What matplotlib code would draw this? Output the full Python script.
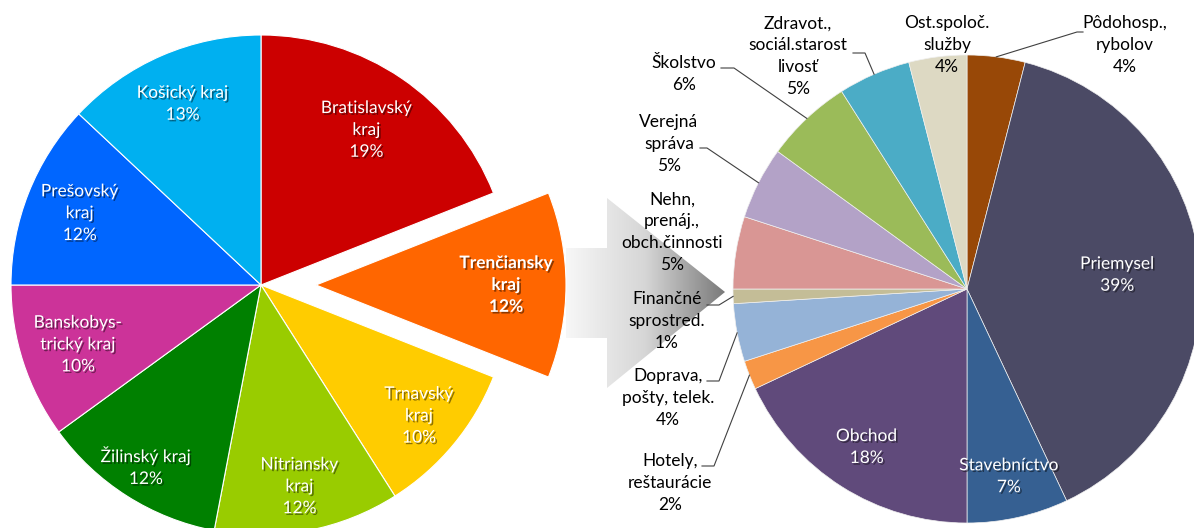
import numpy as np
import matplotlib
matplotlib.use('Agg')
import matplotlib.pyplot as plt
import matplotlib.patheffects as pe
from matplotlib.patches import Polygon

plt.rcParams['font.family'] = ['Lato', 'DejaVu Sans']

# left pie - kraje
kraje = ['Bratislavský\nkraj', 'Trenčiansky\nkraj', 'Trnavský\nkraj', 'Nitriansky\nkraj',
         'Žilinský kraj', 'Banskobys-\ntrický kraj', 'Prešovský\nkraj', 'Košický kraj']
kraje_pct = [19, 12, 10, 12, 12, 10, 12, 13]
kraje_col = ['#CC0000', '#FF6600', '#FFCC00', '#99CC00', '#008000', '#CC3399', '#0066FF', '#00B0F0']

# right pie - odvetvia
odvetvia = ['Pôdohosp.,\nrybolov', 'Priemysel', 'Stavebníctvo', 'Obchod', 'Hotely,\nreštaurácie',
            'Doprava,\npošty, telek.', 'Finančné\nsprostred.', 'Nehn,\nprenáj.,\nobch.činnosti',
            'Verejná\nspráva', 'Školstvo', 'Zdravot.,\nsociál.starost\nlivosť', 'Ost.spoloč.\nslužby']
odvetvia_pct = [4, 39, 7, 18, 2, 4, 1, 5, 5, 6, 5, 4]
odvetvia_col = ['#984807', '#4B4A65', '#366092', '#604A7B', '#F79646', '#95B3D7',
                '#C4BD97', '#D99694', '#B3A2C7', '#9BBB59', '#4BACC6', '#DDD9C3']

W, H = 1194, 528
fig = plt.figure(figsize=(W / 100, H / 100), dpi=100)
ax = fig.add_axes([0, 0, 1, 1])

# gradient arrow between pies (pixel coords, y up)
arrow = Polygon([(566, 280), (607, 280), (607, 330), (725, 236), (607, 140), (607, 190), (566, 190)],
                closed=True, facecolor='none', edgecolor='none')
ax.add_patch(arrow)
grad = np.linspace(0, 1, 256).reshape(1, -1)
im = ax.imshow(grad, extent=(566, 725, 140, 330), cmap=matplotlib.colors.LinearSegmentedColormap.from_list(
    'g', ['#F7F7F7', '#D6D6D6', '#7A7A7A']), aspect='auto', zorder=0)
im.set_clip_path(arrow)

# explode is in data units here (radius is in pixels)
explode = [55 if k.startswith('Tren') else 0 for k in kraje]
wl, _ = ax.pie(kraje_pct, colors=kraje_col, startangle=90, counterclock=False,
               center=(261, 243), radius=250, explode=explode,
               wedgeprops=dict(edgecolor='white', linewidth=0.8))
wr, _ = ax.pie(odvetvia_pct, colors=odvetvia_col, startangle=90, counterclock=False,
               center=(967, 239), radius=234,
               wedgeprops=dict(edgecolor='#F0F0F0', linewidth=0.5))

shadow = [pe.withSimplePatchShadow(offset=(1.2, -1.2), shadow_rgbFace='black', alpha=0.45)]

def wedge_pt(w, d):
    a = np.deg2rad((w.theta1 + w.theta2) / 2)
    return w.center[0] + d * w.r * np.cos(a), w.center[1] + d * w.r * np.sin(a)

LS = 1.45
left_dist = [0.75, 0.76, 0.82, 0.82, 0.86, 0.77, 0.78, 0.79]
for w, name, v, d in zip(wl, kraje, kraje_pct, left_dist):
    x, y = wedge_pt(w, d)
    ax.text(x, y, f'{name}\n{v}%', ha='center', va='center', color='white', fontsize=12.5,
            linespacing=LS, fontweight='bold' if name.startswith('Tren') else 'normal',
            path_effects=shadow)

# inside labels of right pie
inside = {1: 0.645, 2: 0.82, 3: 0.80}
for i, d in inside.items():
    x, y = wedge_pt(wr[i], d)
    ax.text(x, y, f'{odvetvia[i]}\n{odvetvia_pct[i]}%', ha='center', va='center', color='white',
            fontsize=12.5, linespacing=LS, path_effects=shadow)

# outside labels: index -> (text x, text y, elbow x, elbow y, line end x)  in pixels from top
outside = {0: (1125, 45, 1077, 32, 1083),
           11: (947, 45, None, None, None),
           10: (798, 56, 865, 53, 853),
           9: (684, 74, 734, 68, 721),
           8: (669, 144, 707, 148, 700),
           7: (672, 232, None, None, None),
           6: (667, 321, 719, 305, 707),
           5: (668, 398, 719, 381, 707),
           4: (670, 483, 714, 466, 702)}
for i, (tx, ty, ex, ey, hx) in outside.items():
    ax.text(tx, H - ty, f'{odvetvia[i]}\n{odvetvia_pct[i]}%', ha='center', va='center',
            color='black', fontsize=12.5, linespacing=LS, zorder=5)
    if ex is not None:
        px, py = wedge_pt(wr[i], 1.0)
        ax.plot([px, ex, hx], [py, H - ey, H - ey], color='#404040', lw=0.8, zorder=4)

ax.set_xlim(0, W)
ax.set_ylim(0, H)
ax.set_aspect('equal')
ax.axis('off')
fig.savefig('out.png', dpi=100)
